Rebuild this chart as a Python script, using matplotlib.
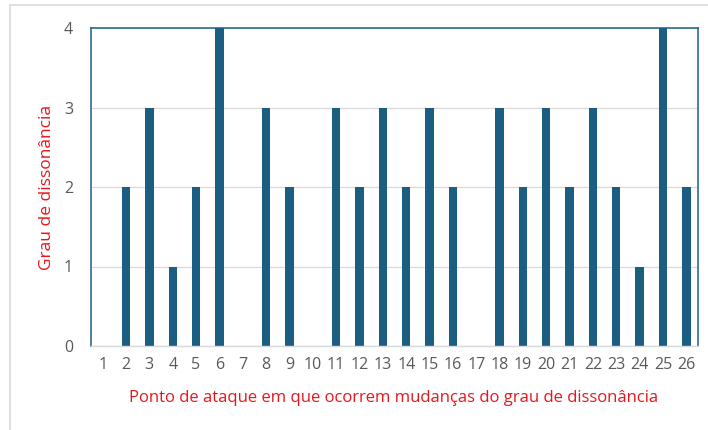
"""Bar chart of dissonance degree per attack point"""

from matplotlib import pyplot as plt
from matplotlib.patches import Rectangle

points = [str(i) for i in range(1, 27)]
degrees = [0, 2, 3, 1, 2, 4, 0, 3, 2, 0, 3, 2, 3, 2, 3, 2, 0, 3, 2, 3, 2, 3, 2, 1, 4, 2]

y_ticks = [0, 1, 2, 3, 4]
x_title = 'Ponto de ataque em que ocorrem mudanças do grau de dissonância'
y_title = 'Grau de dissonância'

bar_color = '#1b5e82'
label_red = '#e8161b'
tick_gray = '#595959'

plt.rcParams['font.family'] = ['Open Sans', 'DejaVu Sans']

fig = plt.figure(figsize=(7.08, 4.30), dpi=100)
ax = fig.add_axes([91 / 708, 1 - 346 / 430, 607 / 708, 318 / 430])

x = list(range(len(points)))
ax.bar(x, degrees, width=0.36, color=bar_color, zorder=3)

ax.set_xlim(-0.5, len(points) - 0.5)
ax.set_ylim(0, 4)
ax.set_xticks(x)
ax.set_xticklabels(points)
ax.set_yticks(y_ticks)
ax.grid(axis='y', color='#d9d9d9', linewidth=0.9, zorder=0)
ax.tick_params(length=0, labelsize=11.5, labelcolor=tick_gray)
ax.tick_params(axis='x', pad=8)
ax.tick_params(axis='y', pad=13)

for side in ['top', 'left', 'right']:
    ax.spines[side].set_color('#2e6c8e')
    ax.spines[side].set_linewidth(1.2)
ax.spines['bottom'].set_color('#d9d9d9')
ax.spines['bottom'].set_linewidth(1.0)
ax.spines['bottom'].set_zorder(4)

fig.text(394 / 708, 1 - 398 / 430, x_title, color=label_red, fontsize=12,
         ha='center', va='center')
fig.text(47 / 708, 1 - 187 / 430, y_title, color=label_red, fontsize=12.5,
         ha='center', va='center', rotation=90)

# light outer chart border
fig.patches.append(Rectangle((10 / 708, -0.05), 1.2, 1 - 5 / 430 + 0.05,
                             transform=fig.transFigure, fill=False,
                             edgecolor='#d9d9d9', linewidth=1.2))

fig.savefig('out.png', dpi=100)
